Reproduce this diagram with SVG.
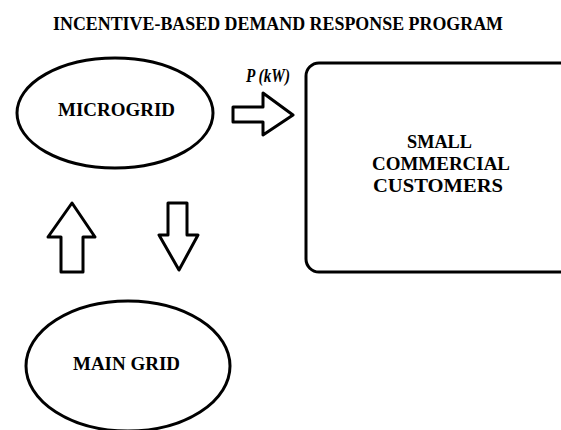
<svg xmlns="http://www.w3.org/2000/svg" width="561" height="430" viewBox="0 0 561 430">
<style>
.shape{fill:#fff;stroke:#000;stroke-width:3;stroke-linejoin:round}
.lbl{font-family:"Liberation Serif","Times New Roman",serif;font-weight:bold;font-size:18px;fill:#000;text-anchor:middle}
</style>
<rect width="561" height="430" fill="#fff"/>
<text class="lbl" x="278" y="30" font-size="19.5" textLength="450" lengthAdjust="spacingAndGlyphs">INCENTIVE-BASED DEMAND RESPONSE PROGRAM</text>
<g id="microgrid">
<ellipse class="shape" cx="115" cy="113" rx="98" ry="55"/>
<text class="lbl" x="116.5" y="115.5" textLength="117" lengthAdjust="spacingAndGlyphs">MICROGRID</text>
</g>
<g id="customers">
<rect class="shape" x="306" y="63" width="280" height="209" rx="13"/>
<text class="lbl" x="439.5" y="148" textLength="65" lengthAdjust="spacingAndGlyphs">SMALL</text>
<text class="lbl" x="441" y="170" textLength="138" lengthAdjust="spacingAndGlyphs">COMMERCIAL</text>
<text class="lbl" x="438" y="192" textLength="130" lengthAdjust="spacingAndGlyphs">CUSTOMERS</text>
</g>
<g id="maingrid">
<ellipse class="shape" cx="128" cy="366" rx="102" ry="65"/>
<text class="lbl" x="126.5" y="370" textLength="107" lengthAdjust="spacingAndGlyphs">MAIN GRID</text>
</g>
<g id="connectors">
<polygon class="shape" points="233,107 263,107 263,93 293,115 263,135 263,122 233,122"/>
<text class="lbl" x="268" y="82" font-style="italic" font-size="15" textLength="44" lengthAdjust="spacingAndGlyphs">P (kW)</text>
<polygon class="shape" points="61,272 61,237 48,237 72,203 95,237 83,237 83,272"/>
<polygon class="shape" points="168,203 187,203 187,235 198,235 179,270 159,235 168,235"/>
</g>
</svg>
